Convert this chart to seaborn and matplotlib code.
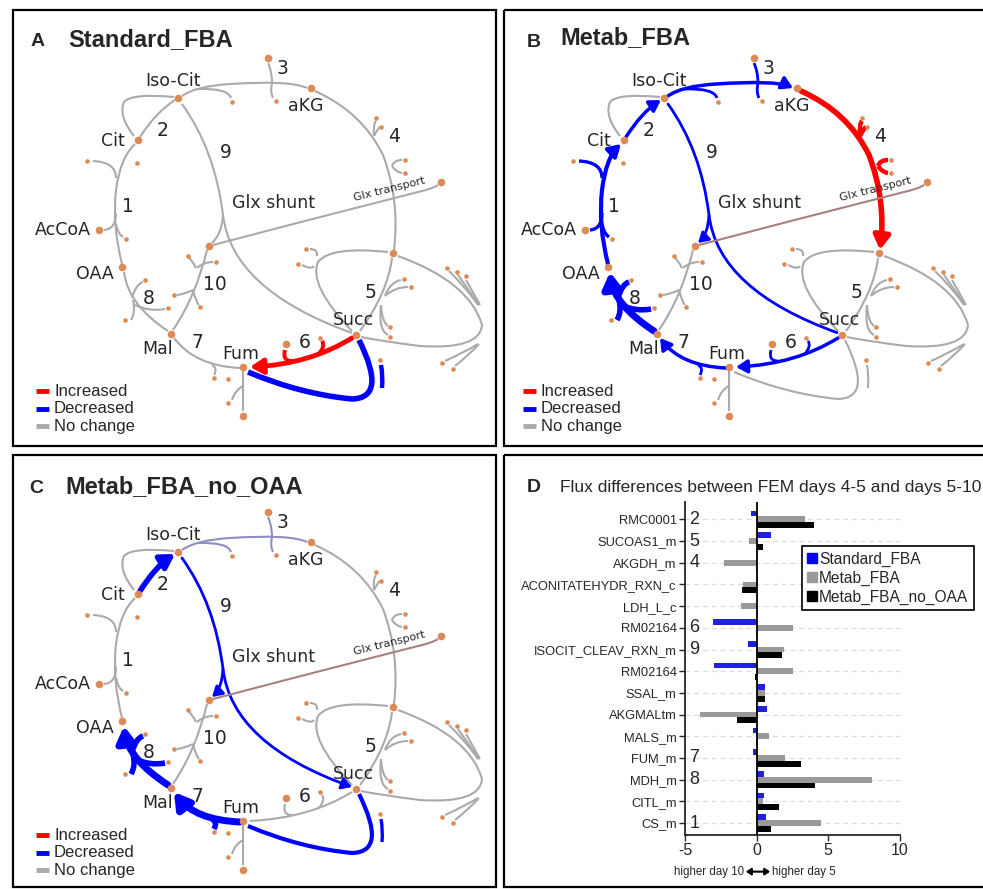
import matplotlib
matplotlib.use("Agg")
import matplotlib.pyplot as plt
from matplotlib.path import Path
from matplotlib.patches import PathPatch, FancyArrowPatch, Rectangle, Patch
import pandas as pd
import seaborn as sns

# ---------------- panel D data ----------------
reactions = ["RMC0001", "SUCOAS1_m", "AKGDH_m", "ACONITATEHYDR_RXN_c", "LDH_L_c",
             "RM02164", "ISOCIT_CLEAV_RXN_m", "RM02164", "SSAL_m", "AKGMALtm",
             "MALS_m", "FUM_m", "MDH_m", "CITL_m", "CS_m"]
step_numbers = ["2", "5", "4", "", "", "6", "9", "", "", "", "", "7", "8", "", "1"]
standard_fba = [-0.42, 1.0, 0.0, 0.0, 0.0, -3.02, -0.63, -3.0, 0.56, 0.74, -0.23, -0.28, 0.51, 0.49, 0.67]
metab_fba = [3.37, -0.51, -2.26, -0.93, -1.09, 2.56, 1.9, 2.56, 0.56, -3.95, 0.84, 1.98, 8.07, 0.47, 4.53]
metab_fba_no_oaa = [4.0, 0.47, -0.05, -1.0, 0.0, -0.06, 1.81, -0.1, 0.6, -1.4, -0.05, 3.07, 4.09, 1.58, 0.98]
models = ["Standard_FBA", "Metab_FBA", "Metab_FBA_no_OAA"]
model_colors = ["#0000ff", "#999999", "#000000"]

# ---------------- network panels ----------------
panel_letters = ["A", "B", "C"]
panel_titles = ["Standard_FBA", "Metab_FBA", "Metab_FBA_no_OAA"]
legend_labels = ["Increased", "Decreased", "No change"]

# change state of each reaction edge per panel: (state, line width, arrow head)
panel_changes = {
    "A": {"succ_fum": ("up", 3.5, True), "fum_loop": ("down", 4.0, False)},
    "B": {"cs": ("down", 3.0, True), "aco": ("down", 2.5, True), "icdh": ("down", 2.5, True),
          "akgdh": ("up", 4.0, True), "succ_fum": ("down", 2.5, True), "fum_mal": ("down", 2.5, True),
          "mdh": ("down", 5.0, True), "icl_glx": ("down", 2.0, True), "icl_succ": ("down", 2.0, False),
          "glx_tr": ("transport", 1.5, False)},
    "C": {"aco": ("down", 4.0, True), "icdh": ("weak", 1.5, False), "icl_glx": ("down", 2.0, True),
          "icl_succ": ("down", 2.0, True), "mdh": ("down", 5.0, True), "fum_mal": ("down", 5.0, True),
          "fum_loop": ("down", 3.0, False), "glx_tr": ("transport", 1.5, False)},
}

GRAY = "#aaaaaa"
NODE = "#dc8a56"
state_color = {"up": "#ff0000", "down": "#0000ff", "same": GRAY,
               "transport": "#a98080", "weak": "#8e8ec4"}

# ---- layout (pixel positions inside panel A; B and C are shifted copies)
panel_offsets = {"A": (0, 0), "B": (486, 0), "C": (0, 454)}

edge_paths = {
    "cs": [(122, 264), (112, 225), (116, 190), (120, 158), (135, 144)],
    "aco": [(140, 137), (156, 112), (175, 100)],
    "aco_loop": [(134, 136), (118, 116), (124, 102), (132, 93), (174, 97)],
    "icdh": [(182, 96), (196, 86), (230, 84), (290, 80), (307, 88)],
    "akgdh": [(315, 91), (362, 112), (383, 155), (400, 200), (394, 250)],
    "sucoas": [(392, 258), (388, 292), (360, 331)],
    "sdh_left": [(388, 252), (330, 246), (318, 262), (308, 285), (352, 331)],
    "right_loop": [(398, 256), (470, 282), (482, 325), (480, 350), (420, 346), (380, 341), (361, 337)],
    "succ_fum": [(352, 338), (310, 364), (250, 367)],
    "fum_loop": [(359, 340), (388, 398), (352, 399), (300, 394), (248, 372)],
    "fum_mal": [(240, 368), (195, 366), (174, 338)],
    "fum_out": [(243, 371), (243, 390), (243, 411)],
    "mdh": [(168, 331), (128, 305), (124, 272)],
    "mals": [(173, 330), (196, 296), (207, 250)],
    "icl_glx": [(182, 104), (215, 150), (223, 215), (222, 234), (212, 243)],
    "icl_succ": [(223, 215), (232, 290), (352, 333)],
    "glx_tr": [(213, 245), (300, 222), (418, 192), (432, 189), (438, 185)],
}
edge_spurs = {
    "cs": [[(116, 213), (116, 229), (104, 230)], [(116, 178), (116, 162), (93, 161)],
           [(116, 224), (118, 234), (123, 237)]],
    "icdh": [[(198, 89), (228, 88), (231, 98)], [(272, 83), (272, 72), (268, 63)],
             [(272, 83), (270, 92), (273, 98)]],
    "akgdh": [[(374, 136), (373, 124), (376, 121)], [(374, 136), (378, 128), (380, 127)],
              [(392, 166), (394, 160), (402, 160)], [(392, 166), (396, 172), (402, 173)]],
    "sucoas": [[(385, 296), (390, 282), (401, 280)], [(385, 296), (395, 287), (408, 287)],
               [(381, 305), (382, 322), (388, 326)], [(381, 305), (378, 330), (388, 335)]],
    "sdh_left": [[(317, 256), (318, 249), (310, 249)], [(314, 266), (312, 270), (302, 265)]],
    "right_loop": [[(478, 305), (468, 290), (449, 271)], [(479, 305), (470, 292), (458, 275)],
                   [(480, 305), (474, 294), (466, 280)], [(478, 344), (465, 352), (445, 361)],
                   [(479, 344), (468, 356), (455, 366)]],
    "succ_fum": [[(292, 361), (282, 361), (285, 350)], [(318, 355), (326, 346), (322, 341)]],
    "fum_loop": [[(382, 388), (383, 375), (381, 365)]],
    "fum_mal": [[(212, 365), (218, 368), (214, 375)]],
    "fum_out": [[(243, 386), (235, 390), (232, 400)]],
    "mdh": [[(132, 298), (136, 284), (143, 282)], [(133, 300), (136, 312), (131, 320)],
            [(135, 305), (150, 312), (165, 309)]],
    "mals": [[(196, 268), (192, 260), (189, 258)], [(197, 268), (204, 262), (213, 262)],
             [(193, 290), (185, 294), (177, 295)], [(193, 290), (196, 302), (199, 305)]],
}
big_nodes = [(178, 98), (138, 140), (99, 230), (122, 267), (171, 334), (243, 367), (356, 335),
             (311, 88), (268, 58), (393, 253), (209, 246), (441, 182), (243, 416), (286, 344)]
small_dots = [(87, 161), (137, 163), (126, 239), (232, 102), (276, 101), (376, 118), (381, 127),
              (405, 160), (405, 173), (306, 249), (298, 264), (404, 279), (411, 287), (390, 327),
              (390, 337), (447, 268), (457, 272), (466, 276), (442, 363), (453, 369), (320, 338),
              (380, 360), (214, 378), (228, 379), (228, 403), (145, 280), (125, 320), (168, 308),
              (188, 256), (216, 262), (174, 295), (200, 307)]
metabolite_labels = [("Iso-Cit", 173, 81), ("Cit", 113, 141), ("AcCoA", 63, 230), ("OAA", 95, 274),
                     ("Mal", 158, 349), ("Fum", 241, 354), ("Succ", 353, 320), ("aKG", 306, 106),
                     ("Glx shunt", 273, 203)]
step_labels = [("1", 128, 206), ("2", 163, 131), ("3", 283, 69), ("4", 394, 137), ("5", 370, 292),
               ("6", 305, 343), ("7", 197, 342), ("8", 149, 298), ("9", 226, 153), ("10", 215, 285)]

sns.set_style("ticks")
plt.rcParams["font.family"] = ["Liberation Sans", "DejaVu Sans"]

fig = plt.figure(figsize=(9.83, 8.89), dpi=100)
ax0 = fig.add_axes([0, 0, 1, 1])
ax0.set_xlim(0, 983)
ax0.set_ylim(889, 0)
ax0.axis("off")


def draw_curve(ax, pts, dx, dy, color, lw, arrow=False):
    pts = [(x + dx, y + dy) for x, y in pts]
    path = Path(pts, [Path.MOVETO] + [Path.CURVE3] * (len(pts) - 1))
    if arrow:
        p = FancyArrowPatch(path=path, arrowstyle="-|>,head_length=0.5,head_width=0.3",
                            mutation_scale=8 + 2 * lw, color=color, lw=lw, zorder=2)
    else:
        p = PathPatch(path, facecolor="none", edgecolor=color, lw=lw, zorder=2,
                      capstyle="butt")
    ax.add_patch(p)


# panel frames
for x0, y0, x1, y1 in [(13, 10, 495.5, 446), (503.5, 10, 995, 446),
                       (13, 455, 495.5, 887), (503.5, 455, 995, 887)]:
    ax0.add_patch(Rectangle((x0, y0), x1 - x0, y1 - y0, fill=False, ec="black", lw=1.6, zorder=5))

title_pos = {"A": ((31, 46), (68, 46)), "B": ((527, 47), (560, 44)), "C": ((29, 493), (65, 493))}
legend_pos = {"A": (36, 391), "B": (523, 391), "C": (36, 835)}

for letter, title in zip(panel_letters, panel_titles):
    dx, dy = panel_offsets[letter]
    changes = panel_changes[letter]
    for name, pts in edge_paths.items():
        state, lw, arrow = changes.get(name, ("same", 1.5, False))
        col = state_color[state]
        draw_curve(ax0, pts, dx, dy, col, lw, arrow)
        for sp in edge_spurs.get(name, []):
            draw_curve(ax0, sp, dx, dy, col, max(1.5, lw * 0.8))
    ax0.scatter([x + dx for x, y in big_nodes], [y + dy for x, y in big_nodes],
                s=30, color=NODE, zorder=4, lw=0)
    ax0.scatter([x + dx for x, y in small_dots], [y + dy for x, y in small_dots],
                s=11, color=NODE, zorder=4, lw=0)
    for txt, x, y in metabolite_labels:
        ax0.text(x + dx, y + dy, txt, fontsize=12.5, family="DejaVu Sans",
                 ha="center", va="center", zorder=6)
    for txt, x, y in step_labels:
        ax0.text(x + dx, y + dy, txt, fontsize=13.5, family="DejaVu Sans",
                 ha="center", va="center", zorder=6)
    ax0.text(389 + dx, 189 + dy, "Glx transport", fontsize=8, family="DejaVu Sans",
             rotation=14, ha="center", va="center", zorder=6)
    (lx, ly), (tx, ty) = title_pos[letter]
    ax0.text(lx, ly, letter, fontsize=14, weight="bold", va="baseline")
    ax0.text(tx, ty, title, fontsize=17, weight="bold", va="baseline")
    lgx, lgy = legend_pos[letter]
    for i, (lab, col) in enumerate(zip(legend_labels, ["#ff0000", "#0000ff", GRAY])):
        yy = lgy + i * 17.5
        ax0.plot([lgx, lgx + 13], [yy, yy], color=col, lw=3.5, solid_capstyle="butt")
        ax0.text(lgx + 18, yy, lab, fontsize=12, va="center")

# ---------------- panel D ----------------
ax0.text(527, 492, "D", fontsize=14, weight="bold", va="baseline")
ax0.text(560, 492, "Flux differences between FEM days 4-5 and days 5-10", fontsize=12.5,
         va="baseline")

rows = []
for i, r in enumerate(reactions):
    for m, vals in zip(models, [standard_fba, metab_fba, metab_fba_no_oaa]):
        rows.append({"row": f"{i}_{r}", "model": m, "flux": vals[i]})
df = pd.DataFrame(rows)
order = [f"{i}_{r}" for i, r in enumerate(reactions)]

axd = fig.add_axes([685 / 983, 1 - 835 / 889, 219 / 983, 333 / 889])
axd.set_facecolor("none")
sns.barplot(data=df, y="row", x="flux", hue="model", order=order, hue_order=models,
            palette=model_colors, orient="h", width=0.8, linewidth=0, ax=axd, zorder=3)
axd.set_xlim(-5, 10.3)
axd.set_ylim(len(reactions) - 0.45, -0.8)
axd.set_yticks(range(len(reactions)))
axd.set_yticklabels(reactions, fontsize=9.3)
axd.set_xticks([-5, 0, 5, 10])
axd.set_xticklabels(["-5", "0", "5", "10"], fontsize=11.5)
axd.tick_params(length=4, width=1, pad=2)
axd.set_ylabel("")
axd.set_xlabel("")
for i in range(len(reactions)):
    axd.axhline(i, color="#dcdcdc", lw=0.9, ls=(0, (4, 3)), zorder=0)
axd.axvline(0, color="black", lw=1.3, zorder=4)
for i, s in enumerate(step_numbers):
    if s:
        axd.text(-4.7, i, s, fontsize=13, ha="left", va="center", zorder=5)
sns.despine(ax=axd)
axd.spines["bottom"].set_bounds(-5, 10)
for sp in ["left", "bottom"]:
    axd.spines[sp].set_linewidth(1.3)

handles = [Patch(color=c) for c in model_colors]
leg = axd.legend(handles, models, loc="upper left", bbox_to_anchor=(802 / 983, 1 - 546 / 889),
                 bbox_transform=fig.transFigure, fontsize=11.2, fancybox=False, framealpha=1,
                 edgecolor="black", handlelength=0.6, handleheight=0.6, handletextpad=0.15,
                 borderpad=0.35, labelspacing=0.25, borderaxespad=0)
leg.get_frame().set_linewidth(1.2)

# x label with double arrow centred on zero
trans = axd.get_xaxis_transform()
axd.text(-0.85, -0.11, "higher day 10", transform=trans, fontsize=8.3, ha="right", va="center")
axd.text(1.1, -0.11, "higher day 5", transform=trans, fontsize=8.3, ha="left", va="center")
axd.annotate("", xy=(-0.75, -0.11), xytext=(0.95, -0.11), xycoords=trans, textcoords=trans,
             arrowprops=dict(arrowstyle="<|-|>,head_length=0.3,head_width=0.2", color="black",
                             lw=1.5, shrinkA=0, shrinkB=0), annotation_clip=False)

fig.savefig("out.png", dpi=100)
